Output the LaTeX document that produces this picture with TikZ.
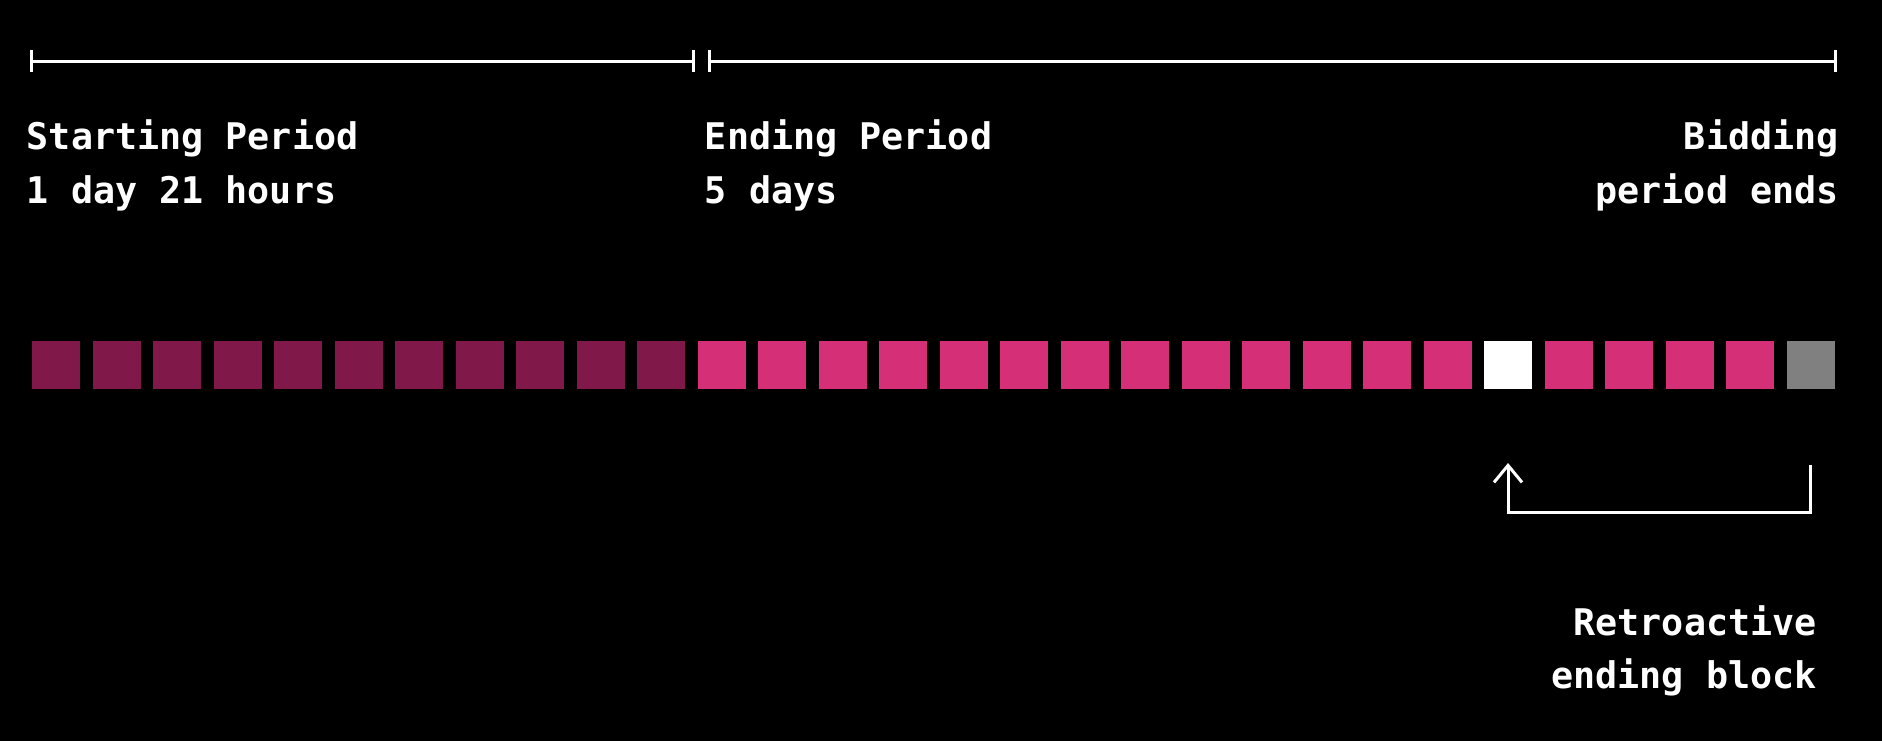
\documentclass[tikz,border=0pt]{standalone}
\usepackage{fontspec}
\setmonofont{DejaVu Sans Mono}
\usetikzlibrary{arrows.meta,positioning,calc}
\definecolor{blkdark}{RGB}{128,24,73}
\definecolor{blkpink}{RGB}{213,47,120}
\definecolor{blkgrey}{RGB}{128,128,128}

\begin{document}
\begin{tikzpicture}[x=0.5pt,y=-0.5pt,
    blk/.style={minimum size=24pt,inner sep=0pt,outer sep=0pt},
    span/.style={white,line width=1.5pt,{Bar[width=11pt]}-{Bar[width=11pt]}},
    lbl/.style={white,inner sep=0pt,font=\ttfamily\bfseries\fontsize{18.35}{26.7}\selectfont},
    ret/.style={white,line width=1.5pt,-{Straight Barb[length=8.5pt,width=14pt]}}]
  \useasboundingbox (0,0) rectangle (1882,740);
  \fill[black] (-4,-4) rectangle (1886,744);

  % periods
  \coordinate (tstart) at (30,61);
  \coordinate (tsplit) at (695,61);
  \coordinate (tend0) at (708.3,61);
  \coordinate (tend) at (1836.7,61);
  \draw[span] (tstart) -- (tsplit);
  \draw[span] (tend0) -- (tend);

  \node[lbl,anchor=north west,align=left] (startlbl) at (26.5,119.5) {Starting Period\\1 day 21 hours};
  \node[lbl,anchor=north west,align=left] (endlbl) at (704.5,119.5) {Ending Period\\5 days};
  \node[lbl,anchor=north east,align=right] (bidlbl) at (1839,119.5) {Bidding\\period ends};

  % blocks
  \foreach \i in {1,...,30}{
    \ifnum\i<12 \def\blkcol{blkdark}\else
      \ifnum\i=25 \def\blkcol{white}\else
        \ifnum\i=30 \def\blkcol{blkgrey}\else\def\blkcol{blkpink}\fi
      \fi
    \fi
    \node[blk,fill=\blkcol] (sq\i) at ({56+(\i-1)*60.5},365) {};
  }

  % retroactive end
  \coordinate (retfrom) at ($(sq30.south)+(0,76)$);
  \coordinate (retto) at ($(sq25.south)+(0,74)$);
  \draw[ret] (retfrom) -- ++(0,47) -| (retto);
  \node[lbl,anchor=north east,align=right] (retlbl) at (1817,605) {Retroactive\\ending block};
\end{tikzpicture}
\end{document}
